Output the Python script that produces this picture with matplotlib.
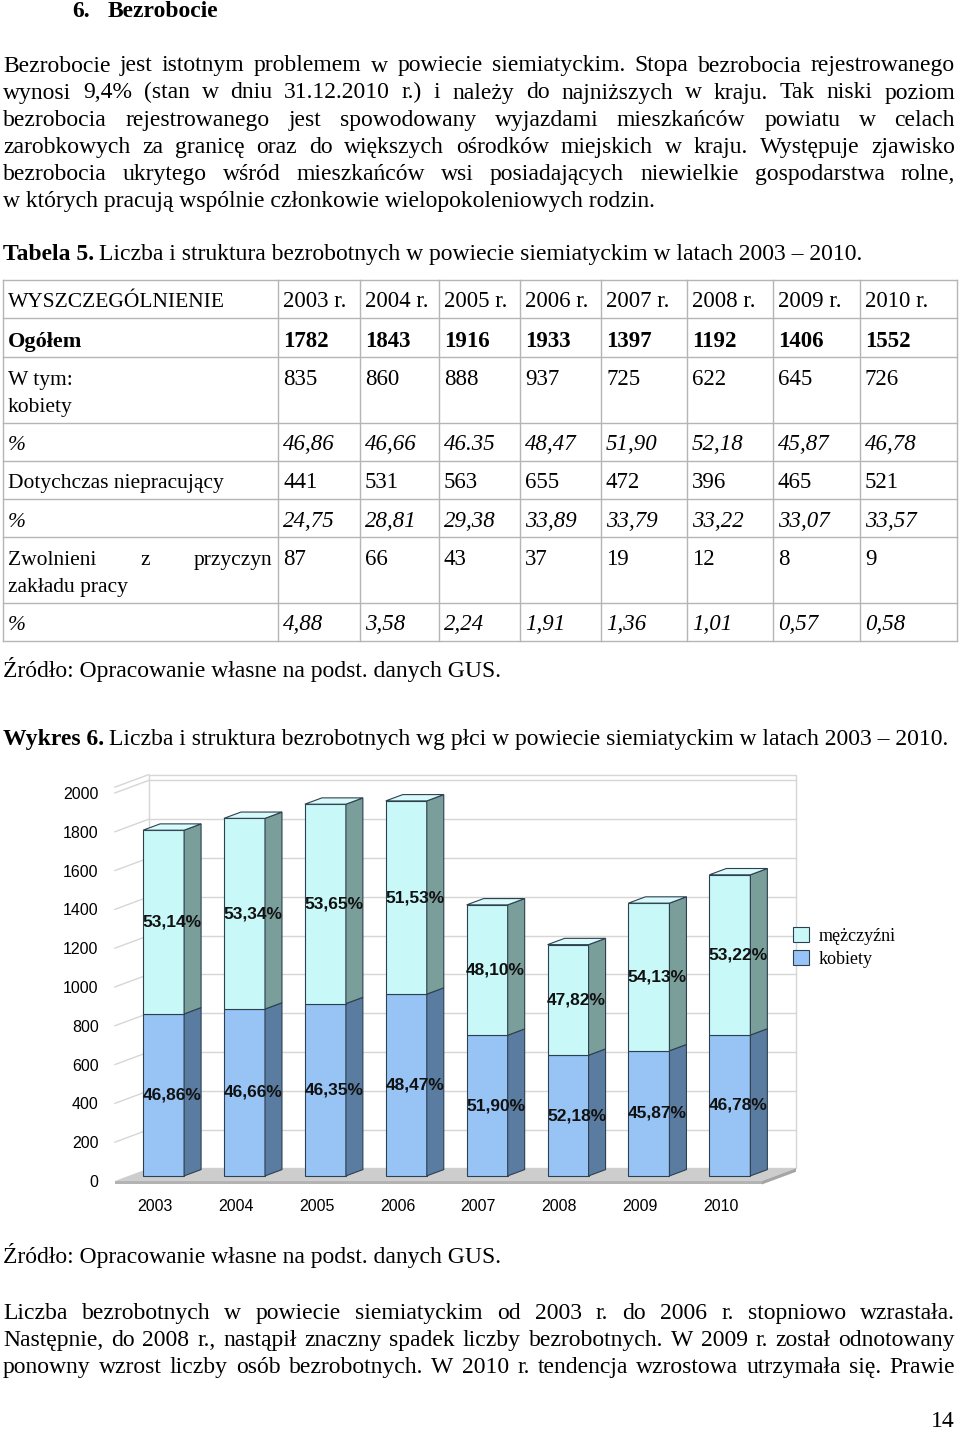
import matplotlib
matplotlib.use('Agg')
import matplotlib.pyplot as plt
from matplotlib.patches import Polygon, Rectangle

# ---- data ----
years = [2003, 2004, 2005, 2006, 2007, 2008, 2009, 2010]
ogolem = [1782, 1843, 1916, 1933, 1397, 1192, 1406, 1552]
kobiety = [835, 860, 888, 937, 725, 622, 645, 726]
kobiety_pct = ['46,86', '46,66', '46.35', '48,47', '51,90', '52,18', '45,87', '46,78']
dotychczas = [441, 531, 563, 655, 472, 396, 465, 521]
dotychczas_pct = ['24,75', '28,81', '29,38', '33,89', '33,79', '33,22', '33,07', '33,57']
zwolnieni = [87, 66, 43, 37, 19, 12, 8, 9]
zwolnieni_pct = ['4,88', '3,58', '2,24', '1,91', '1,36', '1,01', '0,57', '0,58']

pct_men = ['53,14%', '53,34%', '53,65%', '51,53%', '48,10%', '47,82%', '54,13%', '53,22%']
pct_women = ['46,86%', '46,66%', '46,35%', '48,47%', '51,90%', '52,18%', '45,87%', '46,78%']

para1 = [
    "Bezrobocie jest istotnym problemem w powiecie siemiatyckim. Stopa bezrobocia rejestrowanego",
    "wynosi 9,4% (stan w dniu 31.12.2010 r.) i należy do najniższych w kraju. Tak niski poziom",
    "bezrobocia rejestrowanego jest spowodowany wyjazdami mieszkańców powiatu w celach",
    "zarobkowych za granicę oraz do większych ośrodków miejskich w kraju. Występuje zjawisko",
    "bezrobocia ukrytego wśród mieszkańców wsi posiadających niewielkie gospodarstwa rolne,",
    "w których pracują wspólnie członkowie wielopokoleniowych rodzin.",
]
para2 = [
    "Liczba bezrobotnych w powiecie siemiatyckim od 2003 r. do 2006 r. stopniowo wzrastała.",
    "Następnie, do 2008 r., nastąpił znaczny spadek liczby bezrobotnych. W 2009 r. został odnotowany",
    "ponowny wzrost liczby osób bezrobotnych. W 2010 r. tendencja wzrostowa utrzymała się. Prawie",
]
source = "Źródło: Opracowanie własne na podst. danych GUS."

# ---- page helpers (pixel coords, origin top-left) ----
W, H = 960, 1431
SERIF = 'Liberation Serif'
SANS = 'Liberation Sans'
FS = 17      # body text
TS = 15.5    # table labels
TN = 16.5    # table numbers

fig = plt.figure(figsize=(9.6, 14.31), dpi=100)
renderer = fig.canvas.get_renderer()


def fx(px):
    return px / W


def fy(py):
    return 1 - py / H


def put(x, y, s, size=FS, **kw):
    return fig.text(fx(x), fy(y), s, family=SERIF, size=size, va='baseline', **kw)


def width(t):
    return t.get_window_extent(renderer).width


def justify(y, line, x0=3, x1=955, size=FS, **kw):
    words = line.split()
    ts = [put(0, y, w, size=size, **kw) for w in words]
    ws = [width(t) for t in ts]
    gap = (x1 - x0 - sum(ws)) / (len(words) - 1)
    x = x0
    for t, w in zip(ts, ws):
        t.set_x(fx(x))
        x += w + gap


def bold_then(x, y, b, rest, size=FS):
    t = put(x, y, b, size=size, weight='bold')
    put(x + width(t) + 5, y, rest, size=size)


# ---- text ----
put(72, 17, "6.", weight='bold')
put(108, 17, "Bezrobocie", weight='bold')

base = [71.5, 98.5, 126, 153, 180, 207.5]
for y, line in zip(base[:-1], para1[:-1]):
    justify(y, line)
put(3, base[-1], para1[-1])

bold_then(3, 260, "Tabela 5.", "Liczba i struktura bezrobotnych w powiecie siemiatyckim w latach 2003 – 2010.")

# ---- table ----
col_x = [3, 278, 360, 439, 520, 601, 687, 773, 860, 957]
row_y = [280, 318, 357, 423, 461, 499, 537, 603, 641]
lc = '#b5b5b5'
for x in col_x:
    fig.add_artist(plt.Line2D([fx(x), fx(x)], [fy(row_y[0]), fy(row_y[-1])], color=lc, lw=1))
for y in row_y:
    fig.add_artist(plt.Line2D([fx(col_x[0]), fx(col_x[-1])], [fy(y), fy(y)], color=lc, lw=1))

put(8, 307, "WYSZCZEGÓLNIENIE", size=TS)
put(8, 347, "Ogółem", size=TS + 0.5, weight='bold')
put(8, 385, "W tym:", size=TS)
put(8, 412, "kobiety", size=TS)
put(8, 450, "%", size=TS, style='italic')
put(8, 488, "Dotychczas niepracujący", size=TS)
put(8, 527, "%", size=TS, style='italic')
justify(565, "Zwolnieni z przyczyn", x0=8, x1=272, size=TS)
put(8, 592, "zakładu pracy", size=TS)
put(8, 630, "%", size=TS, style='italic')

for i, yr in enumerate(years):
    x = col_x[i + 1] + 5
    put(x, 307, f"{yr} r.", size=TN)
    put(x, 347, str(ogolem[i]), size=TN, weight='bold')
    put(x, 385, str(kobiety[i]), size=TN)
    put(x, 450, kobiety_pct[i], size=TN, style='italic')
    put(x, 488, str(dotychczas[i]), size=TN)
    put(x, 527, dotychczas_pct[i], size=TN, style='italic')
    put(x, 565, str(zwolnieni[i]), size=TN)
    put(x, 630, zwolnieni_pct[i], size=TN, style='italic')

put(3, 677, source)
bold_then(3, 745, "Wykres 6.", "Liczba i struktura bezrobotnych wg płci w powiecie siemiatyckim w latach 2003 – 2010.")

# ---- 3D-look stacked bar chart ----
ax = fig.add_axes([fx(100), fy(1192), (800 - 100) / W, (1192 - 765) / H])
ax.set_xlim(-0.618, 8.035)
ax.set_ylim(-57, 2144)
for s in ax.spines.values():
    s.set_visible(False)

ddx, ddy = 0.42, 65          # depth vector (category units, value units)
xl, xr, top = -0.433, 7.565, 2030
grid_c = '#d6d6d6'

# back wall + left wall
ax.add_patch(Polygon([(xl + ddx, ddy), (xr + ddx, ddy), (xr + ddx, top + ddy), (xl + ddx, top + ddy)],
                     closed=True, fc='white', ec=grid_c, lw=1, zorder=0))
for v in range(200, 2001, 200):
    ax.plot([xl + ddx, xr + ddx], [v + ddy, v + ddy], color=grid_c, lw=1, zorder=1)
    ax.plot([xl, xl + ddx], [v, v + ddy], color=grid_c, lw=1, zorder=1)
ax.plot([xl, xl + ddx], [top, top + ddy], color=grid_c, lw=1, zorder=1)

# floor
ax.add_patch(Polygon([(xl, 0), (xr, 0), (xr + ddx, ddy), (xl + ddx, ddy)],
                     closed=True, fc='#cdcdcd', ec='none', zorder=1))
ax.add_patch(Polygon([(xl, -18), (xr, -18), (xr, 0), (xl, 0)], closed=True, fc='#b3b3b3', ec='none', zorder=1))
ax.add_patch(Polygon([(xr, -18), (xr + ddx, ddy - 18), (xr + ddx, ddy), (xr, 0)],
                     closed=True, fc='#a5a5a5', ec='none', zorder=1))

f0, f1 = 0.4, 0.9
hw = 0.2535
sx, sy = (f1 - f0) * ddx, (f1 - f0) * ddy
ec = '#2d4050'
segs = [('#97c4f5', '#5a7ca0', 'kobiety'), ('#c8f8f8', '#7a9e9a', 'mężczyźni')]
handles = {}
for k in range(len(years)):
    cx = k + f0 * ddx
    x0, x1 = cx - hw, cx + hw
    b = f0 * ddy
    bounds = [(0, kobiety[k]), (kobiety[k], ogolem[k])]
    for (lo, hi), (fc, sc, lab) in zip(bounds, segs):
        r = Rectangle((x0, b + lo), x1 - x0, hi - lo, fc=fc, ec=ec, lw=0.8, zorder=3)
        ax.add_patch(r)
        handles.setdefault(lab, r)
        ax.add_patch(Polygon([(x1, b + lo), (x1 + sx, b + lo + sy), (x1 + sx, b + hi + sy), (x1, b + hi)],
                             closed=True, fc=sc, ec=ec, lw=0.8, zorder=3))
    ax.add_patch(Polygon([(x0, b + ogolem[k]), (x1, b + ogolem[k]), (x1 + sx, b + ogolem[k] + sy),
                          (x0 + sx, b + ogolem[k] + sy)], closed=True, fc='#d9fafa', ec=ec, lw=0.8, zorder=3))
    lx = cx + sx / 2
    ax.text(lx, b + kobiety[k] / 2, pct_women[k], ha='center', va='center',
            family=SANS, size=12.5, weight='bold', color='#111111', zorder=5)
    ax.text(lx, b + (kobiety[k] + ogolem[k]) / 2, pct_men[k], ha='center', va='center',
            family=SANS, size=12.5, weight='bold', color='#111111', zorder=5)

ax.set_yticks(range(0, 2001, 200))
ax.set_xticks([k + 0.06 for k in range(len(years))])
ax.set_xticklabels([str(y) for y in years])
ax.tick_params(length=0, labelsize=11.5, colors='black')
ax.tick_params(axis='y', pad=1)
ax.tick_params(axis='x', pad=5)
for lab in ax.get_xticklabels() + ax.get_yticklabels():
    lab.set_family(SANS)

ax.legend([handles['mężczyźni'], handles['kobiety']], ['mężczyźni', 'kobiety'],
          loc='upper left', bbox_to_anchor=(fx(793), fy(927)), bbox_transform=fig.transFigure,
          frameon=False, prop={'family': SERIF, 'size': 13}, handlelength=0.9, handleheight=0.9,
          labelspacing=0.3, handletextpad=0.5, borderaxespad=0, borderpad=0)

# ---- bottom text ----
put(3, 1263, source)
for y, line in zip([1319, 1346, 1373], para2):
    justify(y, line)
put(955, 1427, "14", ha='right')

fig.savefig('out.png', dpi=100)
